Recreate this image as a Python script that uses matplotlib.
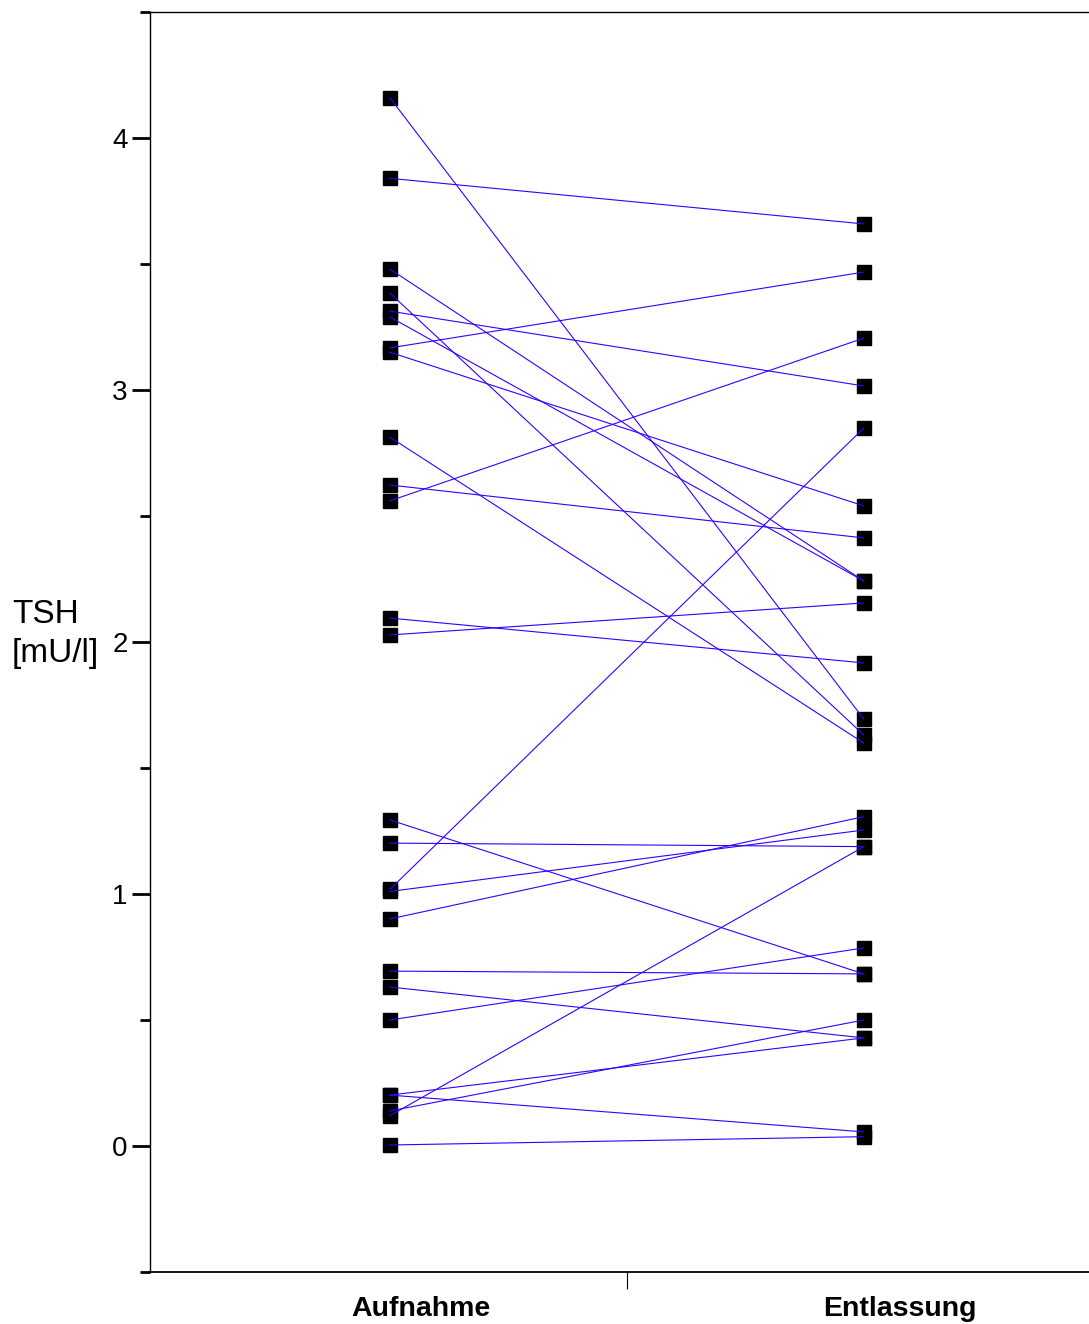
import matplotlib
matplotlib.use("Agg")
import matplotlib.pyplot as plt
from matplotlib.ticker import MultipleLocator

plt.rcParams['font.family'] = ['Liberation Sans', 'DejaVu Sans']

# TSH values per patient: at admission and at discharge (paired)
aufnahme = [4.16, 3.84, 3.48, 3.385, 3.313, 3.29, 3.167, 3.15, 2.813, 2.623,
            2.56, 2.095, 2.028, 1.294, 1.202, 1.018, 1.010, 0.901, 0.694,
            0.631, 0.50, 0.202, 0.202, 0.139, 0.120, 0.004]
entlassung = [1.694, 3.659, 2.242, 1.631, 3.016, 2.242, 3.468, 2.54, 1.599,
              2.413, 3.206, 1.917, 2.155, 0.683, 1.188, 2.849, 1.254, 1.307,
              0.683, 0.429, 0.786, 0.429, 0.056, 0.50, 1.188, 0.037]

group_labels = ["Aufnahme", "Entlassung"]
y_ticks = [0, 1, 2, 3, 4]

fig = plt.figure(figsize=(10.89, 13.24), dpi=100)
ax = fig.add_axes([150 / 1089, 1 - 1272 / 1324, 948 / 1089, (1272 - 12) / 1324])

x0, x1 = 1, 2
# markers first, connecting lines on top of them
ax.plot([x0] * len(aufnahme), aufnahme, linestyle='none', marker='s',
        markersize=10, color='black', zorder=2)
ax.plot([x1] * len(entlassung), entlassung, linestyle='none', marker='s',
        markersize=10, color='black', zorder=2)
for a, e in zip(aufnahme, entlassung):
    ax.plot([x0, x1], [a, e], color='#3300ff', linewidth=0.8, zorder=3)

ax.set_xlim(0.494, 2.494)
ax.set_ylim(-0.5, 4.5)

# spines
ax.spines['right'].set_visible(False)
for s in ('left', 'top', 'bottom'):
    ax.spines[s].set_linewidth(1.0)
    ax.spines[s].set_color('black')
ax.spines['bottom'].set_linewidth(1.3)

# y ticks: labelled integers, short minor ticks every 0.5
ax.yaxis.set_major_locator(MultipleLocator(1))
ax.yaxis.set_minor_locator(MultipleLocator(0.5))
ax.set_yticks(y_ticks)
ax.set_yticklabels([str(t) for t in y_ticks])
ax.tick_params(axis='y', which='major', direction='out', length=13, width=2,
               labelsize=20, pad=3)
ax.tick_params(axis='y', which='minor', direction='out', length=7, width=2)

# single x tick between the two groups
ax.set_xticks([1.5])
ax.set_xticklabels([''])
ax.tick_params(axis='x', which='major', direction='out', length=12, width=0.8)
ax.tick_params(axis='x', which='minor', length=0)

# group labels
trans = ax.get_xaxis_transform()
ax.text(1.066, -0.0349, group_labels[0], transform=trans, ha='center',
        va='baseline', fontsize=20.5, fontweight='bold')
ax.text(2.076, -0.0349, group_labels[1], transform=trans, ha='center',
        va='baseline', fontsize=20.5, fontweight='bold')

# axis title
fig.text(12 / 1089, 1 - 623 / 1324, "TSH", ha='left', va='baseline', fontsize=24)
fig.text(12 / 1089, 1 - 662 / 1324, "[mU/l]", ha='left', va='baseline', fontsize=24)

fig.savefig("out.png", dpi=100)
